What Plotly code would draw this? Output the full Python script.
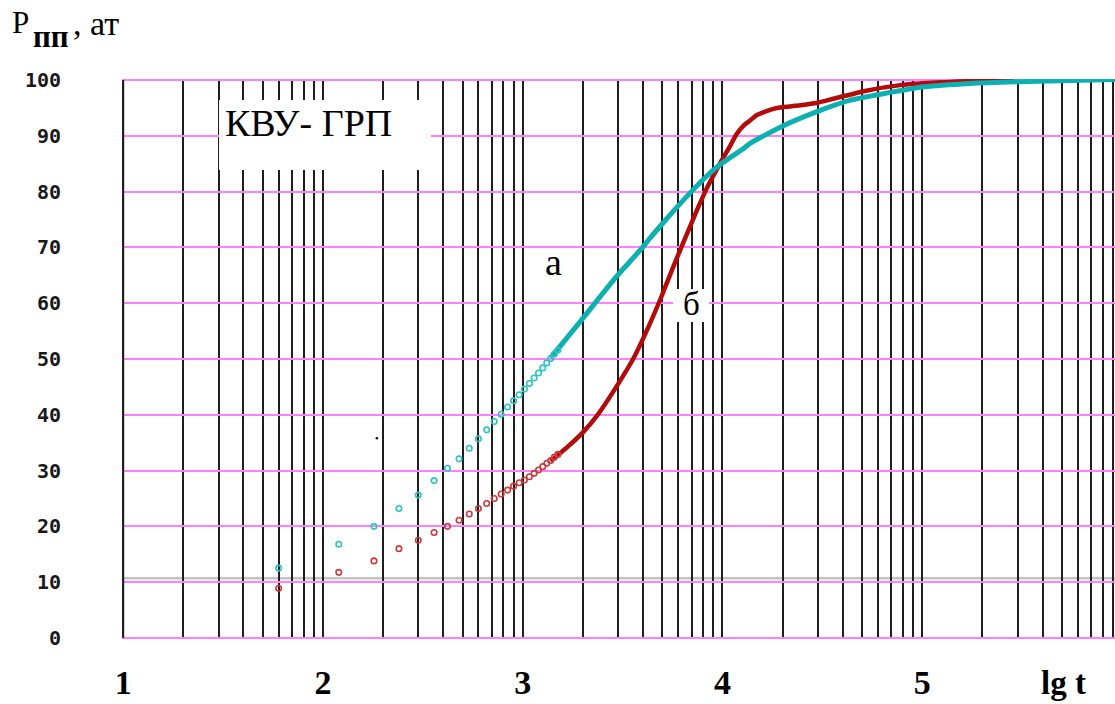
import numpy as np
import plotly.graph_objects as go

# ---------------- data ----------------
# sparse early readings, every minute (t in seconds)
t_sparse = [60, 120, 180, 240, 300, 360, 420, 480, 540, 600, 660, 720, 780,
            840, 900, 960, 1020, 1080, 1140, 1200, 1260, 1320, 1380, 1440, 1500]
P_a_sparse = [12.5, 16.8, 20.0, 23.2, 25.6, 28.2, 30.4, 32.1, 34.0, 35.7, 37.3, 38.8, 40.1,
              41.4, 42.5, 43.6, 44.6, 45.6, 46.6, 47.5, 48.4, 49.3, 50.1, 50.9, 51.6]
P_b_sparse = [8.9, 11.75, 13.8, 16.0, 17.5, 18.9, 20.0, 21.1, 22.2, 23.2, 24.1, 25.0, 25.8,
              26.5, 27.2, 27.8, 28.3, 28.9, 29.5, 30.1, 30.7, 31.3, 31.8, 32.4, 32.9]

# dense part (lg t, P)
lg_a_dense = [3.14, 3.31, 3.47, 3.59, 3.64, 3.71, 3.81, 3.91, 3.99, 4.10, 4.14, 4.31,
              4.47, 4.64, 4.81, 5.01, 5.24, 5.47, 5.965]
P_a_dense = [50.2, 57.7, 64.8, 69.6, 71.8, 74.7, 78.7, 82.4, 84.9, 87.6, 88.7, 91.9,
             94.3, 96.4, 97.6, 98.8, 99.4, 99.7, 100.1]
lg_b_dense = [3.14, 3.22, 3.30, 3.375, 3.47, 3.56, 3.63, 3.69, 3.75, 3.81, 3.87,
              3.92, 3.99, 4.04, 4.07, 4.107, 4.14, 4.17, 4.21, 4.26, 4.29, 4.39,
              4.47, 4.56, 4.72, 4.89, 5.09, 5.46]
P_b_dense = [31.7, 34.1, 36.8, 40.0, 45.1, 50.5, 55.8, 60.8, 66.2, 71.4, 76.5,
             80.5, 85.2, 88.3, 90.3, 91.9, 92.8, 93.7, 94.3, 94.9, 95.1, 95.5,
             95.9, 96.7, 98.1, 99.1, 99.6, 100.1]

stray_lg = [2.27]
stray_P = [35.8]

base_level = [10.7]          # grey reference line level

y_ticks = [0, 10, 20, 30, 40, 50, 60, 70, 80, 90, 100]
x_decades = [1, 2, 3, 4, 5]
x_labels = ["1", "2", "3", "4", "5"]
x_range = [0.994, 5.965]
y_range = [-0.2, 100.2]

# ---------------- figure ----------------
grid_vals, grid_text = [], []
for d, lab in zip(x_decades, x_labels):
    for k in range(1, 10):
        v = d + np.log10(k)
        if v <= x_range[1]:
            grid_vals.append(v)
            grid_text.append(lab if k == 1 else "")

CYAN = "#0DB0B0"
CYAN_M = "#2CC4C4"
RED = "#B40A0A"
RED_M = "#CC3A3A"
VGRID = "#1E1E1E"
HGRID = "#FF80FF"

fig = go.Figure()

fig.add_trace(go.Scatter(x=lg_b_dense, y=P_b_dense, mode="lines",
                         line=dict(color=RED, width=4.5, shape="spline", smoothing=0.6),
                         hoverinfo="skip", showlegend=False))
fig.add_trace(go.Scatter(x=np.log10(t_sparse), y=P_b_sparse, mode="markers",
                         marker=dict(symbol="circle-open", size=5.5, color=RED_M,
                                     line=dict(width=1.6, color=RED_M)),
                         showlegend=False))
fig.add_trace(go.Scatter(x=lg_a_dense, y=P_a_dense, mode="lines",
                         line=dict(color=CYAN, width=5, shape="spline", smoothing=0.6),
                         hoverinfo="skip", showlegend=False))
fig.add_trace(go.Scatter(x=np.log10(t_sparse), y=P_a_sparse, mode="markers",
                         marker=dict(symbol="circle-open", size=5.5, color=CYAN_M,
                                     line=dict(width=1.6, color=CYAN_M)),
                         showlegend=False))
fig.add_trace(go.Scatter(x=stray_lg, y=stray_P, mode="markers",
                         marker=dict(size=2.5, color="black"), showlegend=False))

W, H = 1115, 704
L, R, T, B = 122, 0, 79, 65
pw, ph = W - L - R, H - T - B


def px(x):
    return (x - L) / pw


def py(y):
    return (H - B - y) / ph


shapes = [
    dict(type="line", xref="paper", yref="y", x0=0, x1=1,
         y0=base_level[0], y1=base_level[0],
         line=dict(color="#C4C4C4", width=2.5), layer="below"),
    # edge grid lines (plotly drops grid lines lying on the plot edges)
    dict(type="line", xref="x", yref="y", x0=x_decades[0], x1=x_decades[0],
         y0=y_ticks[0], y1=y_ticks[-1], line=dict(color=VGRID, width=2), layer="between"),
    dict(type="line", xref="paper", yref="y", x0=0, x1=1,
         y0=y_ticks[0], y1=y_ticks[0], line=dict(color=HGRID, width=2), layer="between"),
    dict(type="line", xref="paper", yref="y", x0=0, x1=1,
         y0=y_ticks[-1], y1=y_ticks[-1], line=dict(color=HGRID, width=2), layer="between"),
    # white boxes behind the labels
    dict(type="rect", xref="paper", yref="paper",
         x0=px(219), x1=px(431), y0=py(170), y1=py(100),
         fillcolor="white", line=dict(width=0), layer="above"),
    dict(type="rect", xref="paper", yref="paper",
         x0=px(673), x1=px(709), y0=py(322), y1=py(289),
         fillcolor="white", line=dict(width=0), layer="above"),
]

serif = "Liberation Serif"
annotations = [
    dict(text="КВУ- ГРП", x=px(223), y=py(123), xref="paper", yref="paper",
         xanchor="left", yanchor="middle", showarrow=False,
         font=dict(family=serif, size=38, color="black")),
    dict(text="а", x=px(553), y=py(262), xref="paper", yref="paper",
         xanchor="center", yanchor="middle", showarrow=False,
         font=dict(family=serif, size=38, color="black")),
    dict(text="б", x=px(691), y=py(304), xref="paper", yref="paper",
         xanchor="center", yanchor="middle", showarrow=False,
         font=dict(family=serif, size=33, color="black")),
    dict(text="<b>lg t</b>", x=px(1063), y=py(683), xref="paper", yref="paper",
         xanchor="center", yanchor="middle", showarrow=False,
         font=dict(family=serif, size=33, color="black")),
    dict(text="P", x=px(10), y=py(23), xref="paper", yref="paper",
         xanchor="left", yanchor="middle", showarrow=False,
         font=dict(family=serif, size=31, color="black")),
    dict(text="<b>пп</b>", x=px(31), y=py(36), xref="paper", yref="paper",
         xanchor="left", yanchor="middle", showarrow=False,
         font=dict(family=serif, size=31, color="black")),
    dict(text=", ат", x=px(71), y=py(24), xref="paper", yref="paper",
         xanchor="left", yanchor="middle", showarrow=False,
         font=dict(family=serif, size=34, color="black")),
]

fig.update_layout(
    width=W, height=H,
    margin=dict(l=L, r=R, t=T, b=B, pad=0),
    paper_bgcolor="white", plot_bgcolor="white",
    shapes=shapes, annotations=annotations,
    showlegend=False,
    xaxis=dict(range=x_range, tickmode="array", tickvals=grid_vals, ticktext=grid_text,
               showgrid=True, gridcolor=VGRID, gridwidth=2,
               zeroline=False, showline=False, ticks="",
               ticklabelstandoff=20,
               tickfont=dict(family=serif, size=34, color="black", weight="bold")),
    yaxis=dict(range=y_range, tickmode="array", tickvals=y_ticks,
               showgrid=True, gridcolor=HGRID, gridwidth=2,
               zeroline=False, showline=False, ticks="",
               ticklabelstandoff=60,
               tickfont=dict(family="DejaVu Sans Mono", size=20, color="#1A1A1A",
                             weight="bold")),
)

fig.write_html("out.html")
